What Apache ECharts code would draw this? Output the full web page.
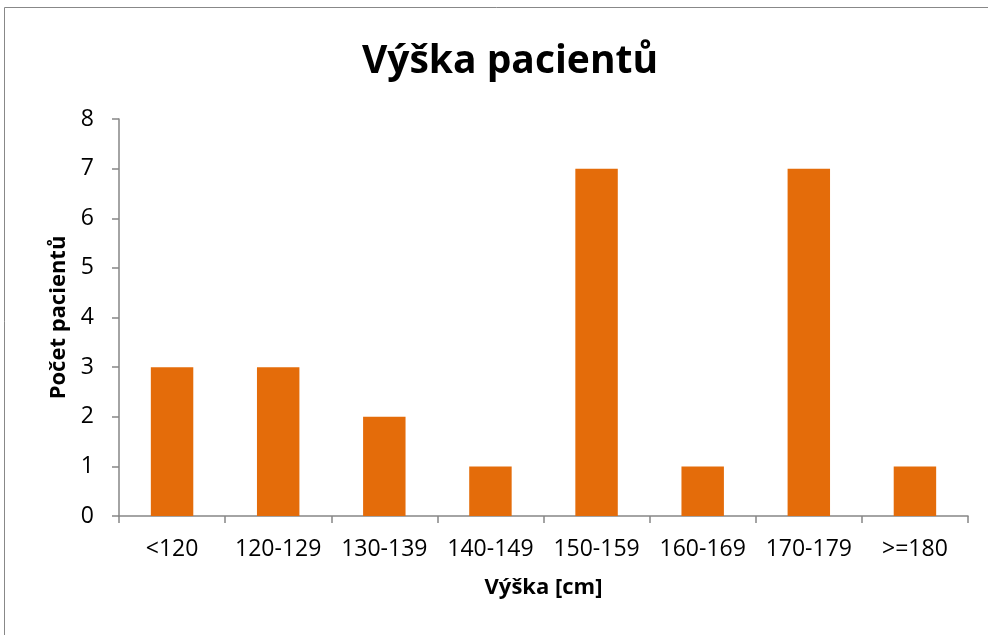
<!DOCTYPE html>
<html>
<head>
<meta charset="utf-8">
<script src="https://cdn.jsdelivr.net/npm/echarts@6/dist/echarts.min.js"></script>
<style>html,body{margin:0;padding:0;background:#fff}#c{width:988px;height:635px}</style>
</head>
<body>
<div id="c"></div>
<script>
const categories = ['<120','120-129','130-139','140-149','150-159','160-169','170-179','>=180'];
const values = [3,3,2,1,7,1,7,1];
const yTicks = [0,1,2,3,4,5,6,7,8];

const chart = echarts.init(document.getElementById('c'));
const FONT = '"Open Sans", "Noto Sans", sans-serif';
chart.setOption({
  animation: false,
  graphic: [{
    type: 'rect', shape: {x: 4.5, y: 7.5, width: 1000, height: 1000},
    style: {fill: 'none', stroke: '#888', lineWidth: 1}, silent: true
  }],
  title: {
    text: 'Výška pacientů', left: 505, top: 37, textAlign: 'center',
    textStyle: {fontFamily: FONT, fontWeight: 'bold', fontSize: 39, color: '#000'}
  },
  grid: {left: 119, right: 20, top: 119, bottom: 119, containLabel: false},
  xAxis: {
    type: 'category', data: categories,
    name: 'Výška [cm]', nameLocation: 'middle', nameGap: 61,
    nameTextStyle: {fontFamily: FONT, fontWeight: 'bold', fontSize: 22, color: '#000'},
    axisLine: {lineStyle: {color: '#868686', width: 1.5}},
    axisTick: {show: true, length: 7, lineStyle: {color: '#868686', width: 1.5}},
    axisLabel: {fontFamily: FONT, fontSize: 23, color: '#000', margin: 22, interval: 0}
  },
  yAxis: {
    type: 'value', min: 0, max: 8, interval: 1,
    name: 'Počet pacientů', nameLocation: 'middle', nameGap: 48, nameRotate: 90,
    nameTextStyle: {fontFamily: FONT, fontWeight: 'bold', fontSize: 22, color: '#000'},
    axisLine: {show: true, lineStyle: {color: '#868686', width: 1.5}},
    axisTick: {show: true, length: 7, lineStyle: {color: '#868686', width: 1.5}},
    splitLine: {show: false},
    axisLabel: {fontFamily: FONT, fontSize: 23, color: '#000', margin: 25,
      formatter: v => yTicks.includes(v) ? String(v) : ''}
  },
  series: [{
    type: 'bar', data: values, barCategoryGap: '60%',
    itemStyle: {color: '#E46C0A'}
  }]
});
</script>
</body>
</html>
